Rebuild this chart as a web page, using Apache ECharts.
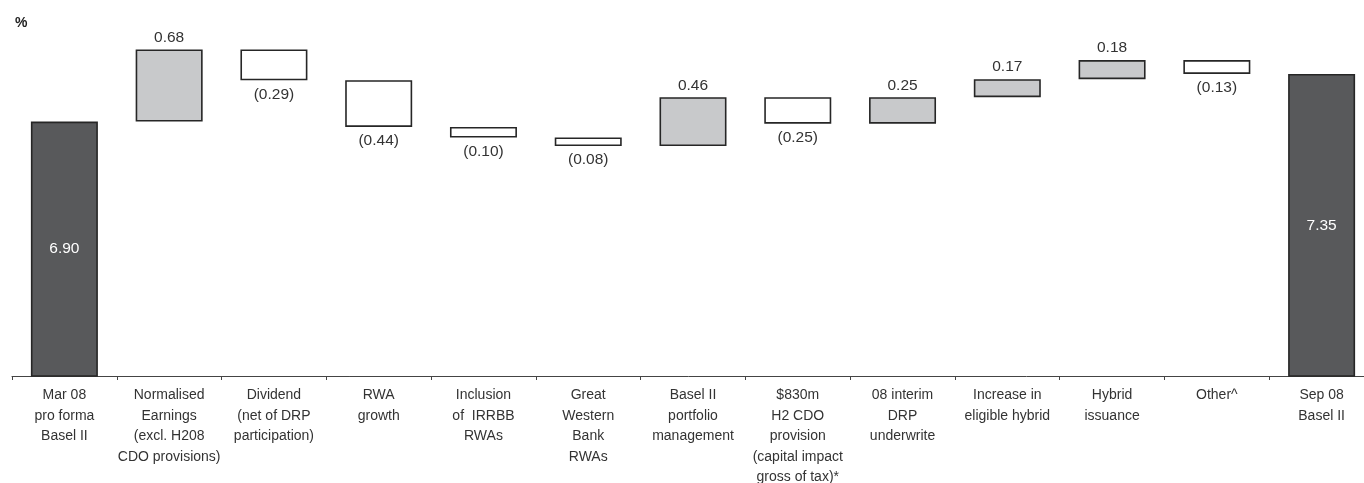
<!DOCTYPE html>
<html>
<head>
<meta charset="utf-8">
<title>Capital waterfall</title>
<script src="https://cdn.jsdelivr.net/npm/echarts@6/dist/echarts.min.js"></script>
<style>
  html, body {margin:0; padding:0; background:#fff;}
  #chart {width:1364px; height:483px;}
</style>
</head>
<body>
<div id="chart"></div>
<script type="text/javascript">
// categories (axis labels)
var categories = [
  'Mar 08\npro forma\nBasel II',
  'Normalised\nEarnings\n(excl. H208\nCDO provisions)',
  'Dividend\n(net of DRP\nparticipation)',
  'RWA\ngrowth',
  'Inclusion\nof  IRRBB\nRWAs',
  'Great\nWestern\nBank\nRWAs',
  'Basel II\nportfolio\nmanagement',
  '$830m\nH2 CDO\nprovision\n(capital impact\ngross of tax)*',
  '08 interim\nDRP\nunderwrite',
  'Increase in\neligible hybrid',
  'Hybrid\nissuance',
  'Other^',
  'Sep 08\nBasel II'
];
// opening / closing totals, and the moves in between
var openTotal = 6.90;
var closeTotal = 7.35;
var moves = [0.68, -0.29, -0.44, -0.10, -0.08, 0.46, -0.25, 0.25, 0.17, 0.18, -0.13];

var DARK = '#58595b', GREY = '#c8c9cb', EDGE = '#262626';

// build the hidden base + visible bar
var baseData = [0];
var barData = [{
  value: openTotal,
  itemStyle: {color: DARK},
  label: {position: 'inside', color: '#fff', formatter: openTotal.toFixed(2)}
}];
var level = openTotal;
moves.forEach(function (d) {
  if (d >= 0) {
    baseData.push(level);
    level += d;
    barData.push({
      value: d,
      itemStyle: {color: GREY},
      label: {position: 'top', distance: 4, formatter: d.toFixed(2)}
    });
  } else {
    level += d;
    baseData.push(level);
    barData.push({
      value: -d,
      itemStyle: {color: '#fff'},
      label: {position: 'bottom', distance: 6, formatter: '(' + (-d).toFixed(2) + ')'}
    });
  }
});
baseData.push(0);
barData.push({
  value: closeTotal,
  itemStyle: {color: DARK},
  label: {position: 'inside', color: '#fff', formatter: closeTotal.toFixed(2)}
});

var chart = echarts.init(document.getElementById('chart'));
chart.setOption({
  animation: false,
  backgroundColor: '#fff',
  textStyle: {fontFamily: 'Liberation Sans, Arial, sans-serif'},
  graphic: [{
    type: 'text', left: 15, top: 16,
    style: {text: '%', font: 'bold 14px Liberation Sans, Arial, sans-serif', fill: '#222'}
  }],
  grid: {left: 12, width: 1362, top: 5, bottom: 107, outerBoundsMode: 'none', containLabel: false},
  xAxis: {
    type: 'category',
    data: categories,
    axisLine: {lineStyle: {color: '#444', width: 1}},
    axisTick: {show: true, length: 4, lineStyle: {color: '#444'}},
    axisLabel: {interval: 0, margin: 9, fontSize: 14, lineHeight: 20.5, color: '#333', align: 'center'}
  },
  yAxis: {
    type: 'value', min: 4.5, max: 8.0, show: false,
    splitLine: {show: false}
  },
  series: [{
    type: 'bar', stack: 'w', data: baseData, barWidth: 67,
    itemStyle: {color: 'transparent'}, silent: true
  }, {
    type: 'bar', stack: 'w', data: barData, barWidth: 67, clip: true,
    itemStyle: {borderColor: EDGE, borderWidth: 1.6},
    label: {show: true, fontSize: 15.5, color: '#333'}
  }]
});
</script>
</body>
</html>
